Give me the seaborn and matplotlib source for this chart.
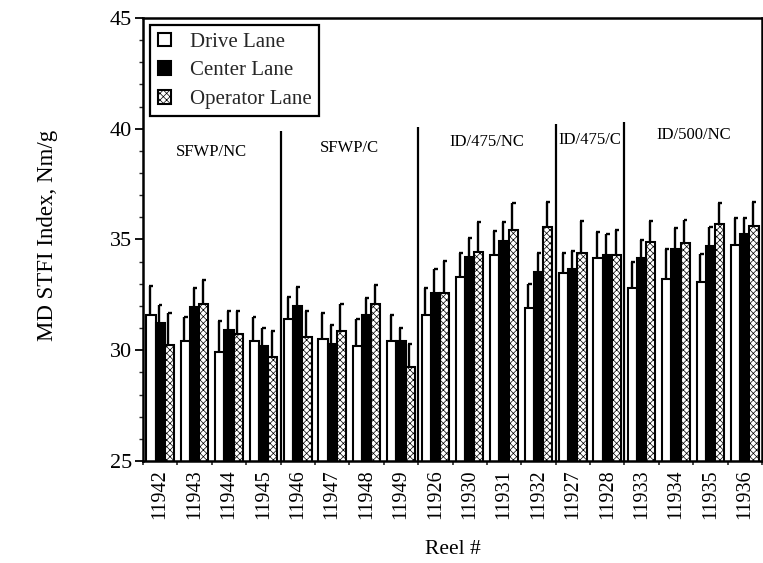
import matplotlib
matplotlib.use("Agg")
import matplotlib.pyplot as plt
from matplotlib.patches import Patch
from matplotlib.ticker import MultipleLocator, FixedLocator
import pandas as pd
import seaborn as sns

# Reels in the order they were run, grouped by furnish / press condition
reels = ["11942", "11943", "11944", "11945",
         "11946", "11947", "11948", "11949",
         "11926", "11930", "11931", "11932",
         "11927", "11928",
         "11933", "11934", "11935", "11936"]
lanes = ["Drive Lane", "Center Lane", "Operator Lane"]

# Mean MD STFI index per lane (Nm/g)
drive = [31.6, 30.4, 29.9, 30.4, 31.4, 30.5, 30.2, 30.4, 31.6,
         33.3, 34.3, 31.9, 33.5, 34.15, 32.8, 33.2, 33.1, 34.75]
center = [31.25, 31.97, 30.9, 30.2, 32.0, 30.27, 31.6, 30.4, 32.6,
          34.2, 34.95, 33.55, 33.65, 34.3, 34.18, 34.56, 34.72, 35.25]
operator = [30.25, 32.1, 30.75, 29.7, 30.6, 30.87, 32.1, 29.26, 32.6,
            34.42, 35.43, 35.58, 34.4, 34.3, 34.9, 34.83, 35.7, 35.6]

# Upper error (one standard deviation) per lane
drive_err = [1.3, 1.1, 1.4, 1.1, 1.0, 1.2, 1.2, 1.2, 1.2,
             1.1, 1.1, 1.1, 0.9, 1.2, 1.2, 1.35, 1.25, 1.2]
center_err = [0.8, 0.85, 0.85, 0.8, 0.85, 0.85, 0.75, 0.6, 1.05,
              0.85, 0.85, 0.85, 0.85, 0.95, 0.8, 0.95, 0.85, 0.7]
operator_err = [1.45, 1.05, 1.0, 1.15, 1.15, 1.2, 0.85, 1.0, 1.45,
                1.35, 1.2, 1.1, 1.45, 1.15, 0.95, 1.05, 0.95, 1.1]

# Trial conditions and the reels each one covers
conditions = ["SFWP/NC", "SFWP/C", "ID/475/NC", "ID/475/C", "ID/500/NC"]
condition_sizes = [4, 4, 4, 2, 4]

sns.set_theme(style="white")
plt.rcParams["font.family"] = ["Liberation Serif", "DejaVu Serif"]
plt.rcParams["hatch.linewidth"] = 0.5

df = pd.DataFrame({
    "reel": reels * 3,
    "lane": [lanes[0]] * len(reels) + [lanes[1]] * len(reels) + [lanes[2]] * len(reels),
    "value": drive + center + operator,
})

fig = plt.figure(figsize=(7.63, 5.63), dpi=100)
ax = fig.add_axes([143 / 763, 1 - 461 / 563, 619 / 763, 443 / 563])

sns.barplot(data=df, x="reel", y="value", hue="lane", order=reels,
            hue_order=lanes, palette=["white", "black", "white"],
            errorbar=None, width=0.8, edgecolor="black", linewidth=1.5,
            saturation=1, legend=False, ax=ax)

# Stipple the operator-lane bars
for bar in ax.containers[2]:
    bar.set_hatch("xxxxx")

# One-sided error bars with a short cap turned to the right
for container, vals, errs in zip(ax.containers,
                                 [drive, center, operator],
                                 [drive_err, center_err, operator_err]):
    xs = [b.get_x() + b.get_width() * 0.4 for b in container]
    w = container[0].get_width()
    tops = [v + e for v, e in zip(vals, errs)]
    ax.vlines(xs, vals, tops, color="black", lw=1.7, zorder=1)
    ax.hlines(tops, [x - w * 0.08 for x in xs], [x + w * 0.35 for x in xs],
              color="black", lw=1.7, zorder=1)

ax.set_xlim(-0.5, len(reels) - 0.5)
ax.set_ylim(25, 45)

# Condition dividers and labels
start = 0
divider_tops = [39.9, 40.1, 40.2, 40.3]
label_heights = [38.95, 39.15, 39.4, 39.5, 39.7]
for i, (name, n) in enumerate(zip(conditions, condition_sizes)):
    center_x = start + (n - 1) / 2
    ax.text(center_x, label_heights[i], name, ha="center", va="center",
            fontsize=12, color="black")
    start += n
    if i < len(conditions) - 1:
        ax.vlines(start - 0.5, 25, divider_tops[i], color="black", lw=1.6)

# Axes styling
ax.yaxis.set_major_locator(MultipleLocator(5))
ax.yaxis.set_minor_locator(MultipleLocator(1))
ax.tick_params(axis="y", which="major", direction="out", length=6, width=1.3,
               labelsize=16, colors="black", pad=2, left=True)
ax.tick_params(axis="y", which="minor", direction="out", length=3, width=1.0,
               left=True)
ax.xaxis.set_minor_locator(FixedLocator([i + 0.5 for i in range(-1, len(reels))]))
ax.tick_params(axis="x", which="major", length=0, labelsize=14.5, pad=6,
               labelrotation=90, colors="black")
ax.tick_params(axis="x", which="minor", direction="out", length=3, width=1.2,
               bottom=True)
for s in ax.spines.values():
    s.set_visible(True)
    s.set_color("black")
    s.set_linewidth(1.8)

ax.set_xlabel("Reel #", fontsize=15.5, color="black")
ax.set_ylabel("MD STFI Index, Nm/g", fontsize=16.5, color="black")
ax.xaxis.set_label_coords(0.5, -0.178)
ax.yaxis.set_label_coords(-0.138, 0.51)

handles = [
    Patch(facecolor="white", edgecolor="black", linewidth=1.5),
    Patch(facecolor="black", edgecolor="black", linewidth=1.5),
    Patch(facecolor="white", edgecolor="black", linewidth=1.5, hatch="xxxxx"),
]
leg = ax.legend(handles, lanes, loc="upper left", fontsize=15,
                frameon=True, fancybox=False, handlelength=0.65,
                handleheight=0.65, handletextpad=0.9, labelspacing=0.45,
                borderpad=0.35, borderaxespad=0.35)
leg.get_frame().set_edgecolor("black")
leg.get_frame().set_linewidth(1.6)
leg.get_frame().set_alpha(1)

fig.savefig("out.png", dpi=100, facecolor="white")
